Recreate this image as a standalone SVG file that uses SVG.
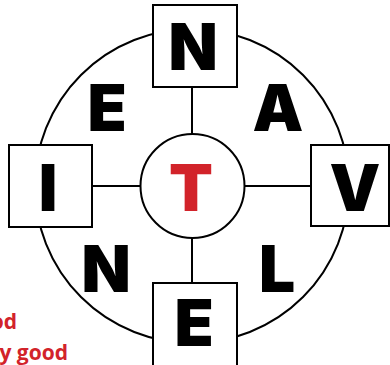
<svg xmlns="http://www.w3.org/2000/svg" width="390" height="365" viewBox="0 0 390 365">
<style>
.ln{stroke:#000;stroke-width:2;fill:none}
.box{fill:#fff;stroke:#000;stroke-width:2}
.lt{font-family:Inter,"Liberation Sans",sans-serif;font-weight:900;font-size:64px;fill:#000;text-anchor:middle}
.red{fill:#d2232a}
.leg{font-family:"Open Sans","Liberation Sans",sans-serif;font-weight:700;font-size:21px;fill:#d2232a;text-anchor:end}
</style>
<rect width="390" height="365" fill="#fff"/>
<g id="connectors">
<circle class="ln" cx="192" cy="186" r="157"/>
<line class="ln" x1="192" y1="87" x2="192" y2="135"/>
<line class="ln" x1="192" y1="237" x2="192" y2="283"/>
<line class="ln" x1="92" y1="186" x2="140" y2="186"/>
<line class="ln" x1="245" y1="186" x2="311" y2="186"/>
</g>
<g id="node-top"><rect class="box" x="153" y="5" width="84" height="82"/><text class="lt" x="193" y="70">N</text></g>
<g id="node-left"><rect class="box" x="9" y="145" width="83" height="82"/><text class="lt" x="48" y="211">I</text></g>
<g id="node-right"><rect class="box" x="311" y="145" width="78" height="81"/><text class="lt" x="355" y="211">V</text></g>
<g id="node-bottom"><rect class="box" x="153" y="283" width="84" height="84"/><text class="lt" x="194" y="346">E</text></g>
<g id="node-center"><circle class="box" cx="192.5" cy="186" r="52"/><text class="lt red" x="191" y="211">T</text></g>
<g id="letters">
<text class="lt" x="107" y="131">E</text>
<text class="lt" x="278" y="131">A</text>
<text class="lt" x="106" y="292">N</text>
<text class="lt" x="277" y="292">L</text>
</g>
<g id="legend">
<text class="leg" x="17" y="329">Good</text>
<text class="leg" x="68" y="360">Very good</text>
</g>
</svg>
